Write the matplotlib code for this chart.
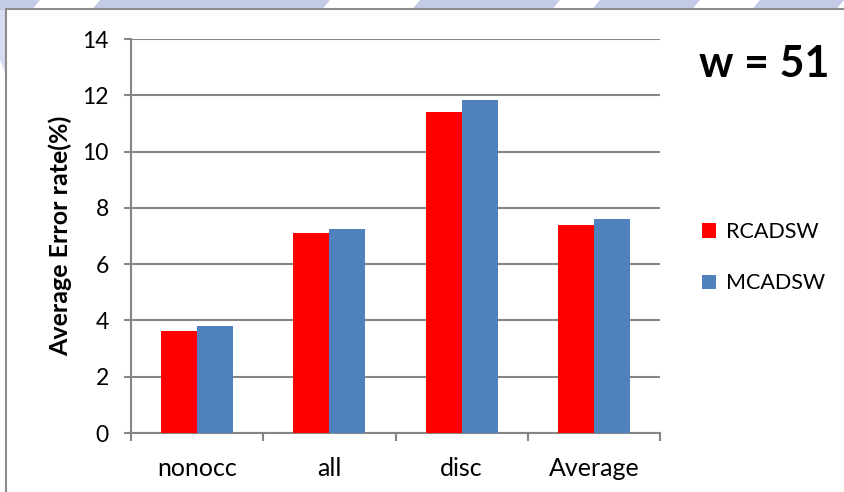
import numpy as np
import matplotlib.pyplot as plt
from matplotlib.patches import Rectangle, Polygon

plt.rcParams['font.family'] = ['Lato', 'DejaVu Sans']

categories = ["nonocc", "all", "disc", "Average"]
rcadsw = [3.63, 7.12, 11.40, 7.39]
mcadsw = [3.80, 7.25, 11.83, 7.61]
series_names = ["RCADSW", "MCADSW"]
yticks = [0, 2, 4, 6, 8, 10, 12, 14]

red = "#ff0000"
blue = "#4f81bd"
grid_gray = "#868686"

fig = plt.figure(figsize=(8.44, 4.92), dpi=100)

# faint background pattern showing above / left of the chart frame
W, H = 844.0, 492.0
bg = [(0, 40), (100, 330), (420, 560), (600, 700), (760, 844)]
for x0, x1 in bg:
    pts = [(x0 / W, 1.0), (x1 / W, 1.0), ((x1 - 10) / W, 1 - 12 / H), ((x0 - 10) / W, 1 - 12 / H)]
    fig.patches.append(Polygon(pts, closed=True, transform=fig.transFigure,
                               facecolor="#c3cbe6", edgecolor="none", zorder=0))
fig.patches.append(Polygon([(0, 1 - 10 / H), (8 / W, 1 - 10 / H), (8 / W, 1 - 80 / H), (0, 1 - 60 / H)],
                           closed=True, transform=fig.transFigure,
                           facecolor="#d6dcef", edgecolor="none", zorder=0))

# chart frame
fig.patches.append(Rectangle((6 / W, -0.01), 1.0, 1 - 9 / H + 0.01, transform=fig.transFigure,
                             facecolor="white", edgecolor="#8c8c8c", linewidth=1.5, zorder=1))

ax = fig.add_axes([131 / W, 1 - 433 / H, (660 - 131) / W, (433 - 39) / H])
ax.set_zorder(2)
ax.patch.set_alpha(0)

x = np.arange(len(categories))
bw = 0.273
ax.bar(x - bw / 2, rcadsw, bw, color=red, label=series_names[0], zorder=3)
ax.bar(x + bw / 2, mcadsw, bw, color=blue, label=series_names[1], zorder=3)

ax.set_xlim(-0.5, len(categories) - 0.5)
ax.set_ylim(0, 14)
ax.set_yticks(yticks)
ax.yaxis.grid(True, color=grid_gray, linewidth=1.5, zorder=0)
ax.set_axisbelow(True)

# category ticks sit between groups, labels centred under each group
ax.set_xticks(np.arange(len(categories) + 1) - 0.5)
ax.set_xticklabels([])
ax.set_xticks(x, minor=True)
ax.set_xticklabels(categories, minor=True, fontsize=18)
ax.tick_params(axis='x', which='minor', length=0, pad=17)
ax.tick_params(axis='x', which='major', length=6, width=1.5, color=grid_gray)
ax.tick_params(axis='y', length=5, width=1.5, color=grid_gray, labelsize=16.5, pad=11)

for side in ["top", "right"]:
    ax.spines[side].set_visible(False)
for side in ["left", "bottom"]:
    ax.spines[side].set_color(grid_gray)
    ax.spines[side].set_linewidth(1.5)

ax.set_ylabel("Average Error rate(%)", fontsize=18, fontweight='bold', labelpad=7)

fig.text(764 / W, 1 - 64 / H, "w = 51", fontsize=31, fontweight='bold',
         ha='center', va='center')

leg = ax.legend(loc='center left', bbox_to_anchor=(1.08, 0.445), frameon=False,
                fontsize=15.5, handlelength=0.65, handleheight=0.65, labelspacing=1.45,
                handletextpad=0.45, borderpad=0, borderaxespad=0)

fig.savefig("out.png", dpi=100)
